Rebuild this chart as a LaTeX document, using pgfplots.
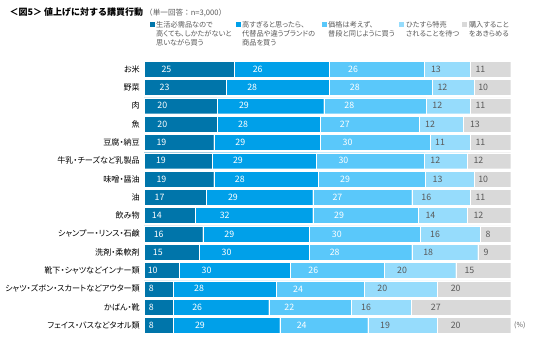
\documentclass[border=0pt]{standalone}
\usepackage{pgfplots}
\pgfplotsset{compat=1.18}
\usepackage{fontspec}
\setmainfont{Noto Sans CJK JP}[RawFeature=+palt]
\newfontfamily\fullw{Noto Sans CJK JP}
\definecolor{cA}{RGB}{0,117,170}
\definecolor{cB}{RGB}{0,160,233}
\definecolor{cC}{RGB}{90,200,250}
\definecolor{cD}{RGB}{150,220,252}
\definecolor{cE}{RGB}{217,217,217}
\definecolor{txtg}{RGB}{89,89,89}
\begin{document}
\begin{tikzpicture}
\useasboundingbox (0,0) rectangle (536pt,-342pt);
% title
\node[anchor=west, inner sep=0pt, font=\fullw\fontsize{9}{10}\selectfont\bfseries] at (9.5pt,-12pt) {＜図5＞ 値上げに対する購買行動};
\node[anchor=west, inner sep=0pt, font=\fullw\fontsize{7.6}{8}\selectfont, text=txtg] at (145pt,-12.5pt) {（単一回答：n=3,000）};
% legend
\def\legitem#1#2#3{%
  \fill[#2] (#1pt,-22.5pt) rectangle ++(5pt,-5pt);
  \node[anchor=north west, inner sep=0pt, align=left, text=txtg, font=\fontsize{7.2}{8.8}\selectfont] at (#1pt+6.5pt,-21.5pt) {#3};
}
\legitem{149.5}{cA}{生活必需品なので\\高くても、しかたがないと\\思いながら買う}
\legitem{235.5}{cB}{高すぎると思ったら、\\代替品や違うブランドの\\商品を買う}
\legitem{321.5}{cC}{価格は考えず、\\普段と同じように買う}
\legitem{399.3}{cD}{ひたすら特売\\されることを待つ}
\legitem{462.3}{cE}{購入すること\\をあきらめる}
\begin{axis}[
  at={(144pt,-60pt)}, anchor=north west,
  scale only axis, width=366.7pt, height=274.6pt,
  xbar stacked, bar width=0.87,
  xmin=0, xmax=100, ymin=-0.5, ymax=14.5, y dir=reverse,
  axis line style={draw=none}, xtick=\empty, major tick length=0pt,
  ytick={0,...,14},
  yticklabels={お米,野菜,肉,魚,豆腐・納豆,牛乳・チーズなど乳製品,味噌・醤油,油,飲み物,シャンプー・リンス・石鹸,洗剤・柔軟剤,靴下・シャツなどインナー類,シャツ・ズボン・スカートなどアウター類,かばん・靴,フェイス・バスなどタオル類},
  yticklabel style={font=\fontsize{8.1}{9}\selectfont, text=black, inner sep=0pt, xshift=-4pt},
  point meta=explicit symbolic,
  nodes near coords={\pgfplotspointmeta},
  visualization depends on={rawx \as \myx},
  every node near coord/.style={anchor=center, xshift={-0.9166667*\myx}, font=\fontsize{8.8}{9}\selectfont, inner sep=0pt},
  clip=false,
]
\addplot[fill=cA, draw=white, line width=0.3pt, every node near coord/.append style={text=white}] coordinates {
(24.5,0)[25] (22.5,1)[23] (20,2)[20] (20,3)[20] (19,4)[19] (18.5,5)[19] (19,6)[19] (17,7)[17] (14,8)[14] (16,9)[16] (15,10)[15] (9.5,11)[10] (8,12)[8] (8,13)[8] (8,14)[8]};
\addplot[fill=cB, draw=white, line width=0.3pt, every node near coord/.append style={text=white}] coordinates {
(26,0)[26] (28,1)[28] (29,2)[29] (28,3)[28] (29,4)[29] (28.5,5)[29] (28.5,6)[28] (29,7)[29] (32,8)[32] (29,9)[29] (30,10)[30] (30.25,11)[30] (28,12)[28] (26,13)[26] (29,14)[29]};
\addplot[fill=cC, draw=white, line width=0.3pt, every node near coord/.append style={text=white}] coordinates {
(26,0)[26] (28,1)[28] (28,2)[28] (27,3)[27] (30,4)[30] (29.5,5)[30] (29.25,6)[29] (27,7)[27] (28.75,8)[29] (30.25,9)[30] (28,10)[28] (25.75,11)[26] (24,12)[24] (22.5,13)[22] (24,14)[24]};
\addplot[fill=cD, draw=white, line width=0.3pt, every node near coord/.append style={text=txtg}] coordinates {
(12.5,0)[13] (11.5,1)[12] (12,2)[12] (12,3)[12] (11,4)[11] (11.75,5)[12] (13.25,6)[13] (16,7)[16] (13.5,8)[14] (16.5,9)[16] (18,10)[18] (19.5,11)[20] (20,12)[20] (16.25,13)[16] (19,14)[19]};
\addplot[fill=cE, draw=white, line width=0.3pt, every node near coord/.append style={text=txtg}] coordinates {
(11,0)[11] (10,1)[10] (11,2)[11] (13,3)[13] (11,4)[11] (11.75,5)[12] (10,6)[10] (11,7)[11] (11.75,8)[12] (8.25,9)[8] (9,10)[9] (15,11)[15] (20,12)[20] (27.25,13)[27] (20,14)[20]};
\end{axis}
\node[anchor=west, inner sep=0pt, text=txtg] at (514pt,-325.5pt) {\fontsize{7}{7}\selectfont (\%)};
\end{tikzpicture}
\end{document}
